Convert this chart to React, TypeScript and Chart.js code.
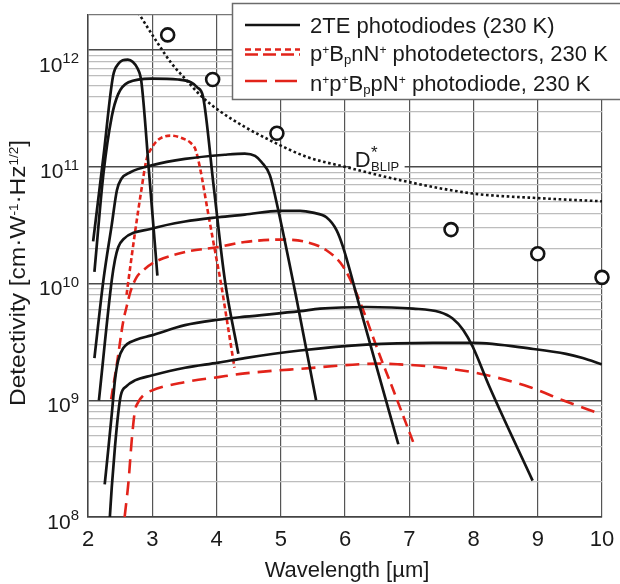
import React, { useEffect, useRef } from "react";
import { Chart, registerables } from "chart.js";

Chart.register(...registerables);

const FONT = '"Liberation Sans", Arial, Helvetica, sans-serif';
const BLACK = "#141414";
const RED = "#e2231a";
const TEXT = "#1a1a1a";

// ---------- axes ----------
const xMin = 2;
const xMax = 10;
const xStep = 1;
const yMin = 1e8;
const yMax = 2e12;
const yDecadeExponents = [8, 9, 10, 11, 12];
const yMinorMultipliers = [2, 3, 4, 5, 6, 7, 8, 9];
const xTitle = "Wavelength [µm]";

// ---------- data: wavelength [µm] / detectivity [Jones] ----------
// 2TE photodiodes (230 K)
const te1Wl = [2.08, 2.24, 2.39, 2.47, 2.54, 2.62, 2.7, 2.77, 2.83, 2.95, 3.08];
const te1D = [2.3e10, 1.22e11, 6.0e11, 7.6e11, 8.2e11, 8.3e11, 7.9e11, 7.0e11, 5.4e11, 9.0e10, 1.17e10];

const te2Wl = [2.1, 2.24, 2.37, 2.47, 2.63, 2.99, 3.4, 3.6, 3.7, 3.79, 3.96, 4.13, 4.34];
const te2D = [1.26e10, 8.7e10, 2.7e11, 4.2e11, 5.3e11, 5.7e11, 5.6e11, 5.3e11, 4.8e11, 4.0e11, 6.5e10, 1.07e10, 2.5e9];

const te3Wl = [2.1, 2.24, 2.37, 2.45, 2.52, 2.66, 2.99, 3.51, 4.13, 4.44, 4.6, 4.7, 4.83, 4.93, 5.25, 5.55];
const te3D = [2.3e9, 1.07e10, 3.2e10, 6.3e10, 7.9e10, 9.0e10, 1.03e11, 1.17e11, 1.27e11, 1.3e11, 1.24e11, 1.1e11, 8.5e10, 5.1e10, 7.2e9, 1.0e9];

const te4Wl = [2.17, 2.37, 2.42, 2.47, 2.55, 2.99, 3.51, 4.03, 4.44, 4.99, 5.3, 5.5, 5.71, 5.87, 5.97, 6.23, 6.83];
const te4D = [1.0e9, 1.07e10, 1.6e10, 2.05e10, 2.4e10, 2.95e10, 3.4e10, 3.7e10, 3.9e10, 4.2e10, 4.2e10, 4.05e10, 3.7e10, 2.86e10, 2.05e10, 6.3e9, 4.2e8];

const te5Wl = [2.26, 2.32, 2.37, 2.42, 2.47, 2.55, 2.75, 2.99, 3.51, 4.03, 4.44, 5.3, 5.61, 6.33, 7.06, 7.47, 7.68, 7.84, 7.99, 8.25, 8.92];
const te5D = [1.9e8, 4.0e8, 7.6e8, 1.5e9, 2.2e9, 2.8e9, 3.3e9, 3.6e9, 4.4e9, 4.9e9, 5.2e9, 5.8e9, 6.1e9, 6.3e9, 6.1e9, 5.7e9, 5.0e9, 4.0e9, 2.86e9, 1.3e9, 2.05e8];

const te6Wl = [2.34, 2.37, 2.42, 2.47, 2.51, 2.6, 2.73, 2.99, 3.51, 4.03, 4.44, 5.3, 6.33, 7.37, 7.99, 8.93, 9.44, 9.7, 10.0];
const te6D = [1.0e8, 1.8e8, 4.0e8, 7.7e8, 1.1e9, 1.32e9, 1.48e9, 1.63e9, 1.9e9, 2.1e9, 2.3e9, 2.67e9, 3.0e9, 3.1e9, 3.1e9, 2.75e9, 2.5e9, 2.3e9, 2.03e9];

// p+BpnN+ photodetectors, 230 K
const pbA_Wl = [2.6, 2.63, 2.73, 2.83, 2.91, 2.99, 3.09, 3.29, 3.51, 3.6, 3.67, 3.74, 3.87, 3.98, 4.07, 4.18, 4.28];
const pbA_D = [8.0e9, 1.07e10, 2.7e10, 6.3e10, 1.15e11, 1.45e11, 1.7e11, 1.85e11, 1.72e11, 1.6e11, 1.42e11, 1.0e11, 4.0e10, 1.86e10, 1.0e10, 4.2e9, 1.9e9];

const pbB_Wl = [2.36, 2.45, 2.55, 2.6, 2.66, 2.76, 2.86, 3.04, 3.51, 4.03, 4.44, 4.99, 5.4, 5.71, 5.97, 6.18, 6.57, 6.7, 7.06];
const pbB_D = [1.02e9, 2.06e9, 4.8e9, 6.3e9, 8.5e9, 1.14e10, 1.3e10, 1.53e10, 1.86e10, 2.06e10, 2.27e10, 2.38e10, 2.27e10, 1.93e10, 1.4e10, 8.2e9, 2.2e9, 1.45e9, 4.4e8];

// n+p+BppN+ photodiode, 230 K
const npWl = [2.57, 2.63, 2.68, 2.73, 2.78, 2.86, 2.99, 3.51, 4.03, 4.44, 5.3, 6.54, 6.85, 7.32, 8.1, 8.87, 9.39, 9.96];
const npD = [1.0e8, 2.0e8, 4.5e8, 8.1e8, 9.6e8, 1.1e9, 1.21e9, 1.43e9, 1.58e9, 1.7e9, 1.86e9, 2.06e9, 2.03e9, 1.95e9, 1.69e9, 1.3e9, 1.0e9, 7.7e8];

// D*BLIP
const blipWl = [2.78, 3.07, 3.3, 3.51, 3.77, 4.03, 4.44, 4.88, 5.4, 6.0, 7.0, 8.0, 9.0, 10.0];
const blipD = [2.1e12, 1.18e12, 7.7e11, 5.7e11, 4.0e11, 3.06e11, 2.2e11, 1.64e11, 1.22e11, 1.0e11, 7.4e10, 5.9e10, 5.4e10, 5.07e10];

// open circles
const markWl = [3.24, 3.94, 4.94, 7.65, 9.0, 10.0];
const markD = [1.35e12, 5.6e11, 1.94e11, 2.9e10, 1.8e10, 1.13e10];

// label anchors (data coords)
const blipLabelWl = 6.15;
const blipLabelD = 1e11;

type Seg = { t: string; k?: "sup" | "sub" };
const yTitleSegs: Seg[] = [
  { t: "Detectivity [cm·W" },
  { t: "-1", k: "sup" },
  { t: "·Hz" },
  { t: "1/2", k: "sup" },
  { t: "]" },
];
const legendRows: Seg[][] = [
  [{ t: "2TE photodiodes (230 K)" }],
  [
    { t: "p" }, { t: "+", k: "sup" }, { t: "B" }, { t: "p", k: "sub" }, { t: "nN" }, { t: "+", k: "sup" },
    { t: " photodetectors, 230 K" },
  ],
  [
    { t: "n" }, { t: "+", k: "sup" }, { t: "p" }, { t: "+", k: "sup" }, { t: "B" }, { t: "p", k: "sub" },
    { t: "pN" }, { t: "+", k: "sup" }, { t: " photodiode, 230 K" },
  ],
];

const pts = (xs: number[], ys: number[]) => xs.map((x, i) => ({ x, y: ys[i] }));

const yGridValues: number[] = (() => {
  const out: number[] = [];
  for (const e of yDecadeExponents) {
    const base = Math.pow(10, e);
    out.push(base);
    for (const m of yMinorMultipliers) {
      const v = m * base;
      if (v <= yMax * 1.0001) out.push(v);
    }
  }
  return out.filter((v) => v >= yMin && v <= yMax * 1.0001);
})();

const isDecade = (v: number) => {
  const l = Math.log10(v);
  return Math.abs(l - Math.round(l)) < 1e-6;
};

function segSize(size: number, k?: string) {
  if (k === "sup") return size * 0.55;
  if (k === "sub") return size * 0.6;
  return size;
}
function richWidth(ctx: CanvasRenderingContext2D, segs: Seg[], size: number) {
  let w = 0;
  for (const s of segs) {
    ctx.font = `${segSize(size, s.k)}px ${FONT}`;
    w += ctx.measureText(s.t).width;
  }
  return w;
}
function drawRich(ctx: CanvasRenderingContext2D, segs: Seg[], x: number, y: number, size: number) {
  let cx = x;
  ctx.textAlign = "left";
  ctx.textBaseline = "alphabetic";
  for (const s of segs) {
    const sz = segSize(size, s.k);
    ctx.font = `${sz}px ${FONT}`;
    const dy = s.k === "sup" ? -size * 0.3 : s.k === "sub" ? size * 0.12 : 0;
    ctx.fillText(s.t, cx, y + dy);
    cx += ctx.measureText(s.t).width;
  }
  return cx;
}

const lineBase = {
  type: "line" as const,
  showLine: true,
  pointRadius: 0,
  pointHoverRadius: 0,
  fill: false,
  cubicInterpolationMode: "monotone" as const,
  borderCapStyle: "butt" as const,
  borderJoinStyle: "round" as const,
};

const decorPlugin = {
  id: "decor",
  beforeDatasetsDraw(chart: any) {
    const { ctx, scales } = chart;
    const x = scales.x.getPixelForValue(blipLabelWl);
    const y = scales.y.getPixelForValue(blipLabelD);
    ctx.save();
    ctx.fillStyle = "#fff";
    ctx.fillRect(x - 4, y - 24, 54, 28);
    ctx.restore();
  },
  afterDraw(chart: any) {
    const { ctx, scales, chartArea } = chart;
    const ys = scales.y;
    const xs = scales.x;
    ctx.save();
    ctx.fillStyle = TEXT;

    // y tick labels 10^n
    for (const e of yDecadeExponents) {
      const py = ys.getPixelForValue(Math.pow(10, e));
      const shift = py - chartArea.top < 40 ? 14 : 4;
      const base = py + shift + 7.5;
      ctx.font = `15px ${FONT}`;
      const ew = ctx.measureText(String(e)).width;
      ctx.font = `21px ${FONT}`;
      const tw = ctx.measureText("10").width;
      const right = chartArea.left - 9;
      ctx.textAlign = "left";
      ctx.textBaseline = "alphabetic";
      ctx.fillText("10", right - ew - tw, base);
      ctx.font = `15px ${FONT}`;
      ctx.fillText(String(e), right - ew, base - 8.5);
    }

    // x title
    ctx.font = `22px ${FONT}`;
    ctx.textAlign = "center";
    ctx.textBaseline = "alphabetic";
    ctx.fillText(xTitle, (chartArea.left + chartArea.right) / 2 + 2, 577);

    // y title (rotated)
    const ySize = 22;
    const w = richWidth(ctx, yTitleSegs, ySize);
    const target = 266;
    const stretch = Math.min(1.2, Math.max(1, target / w));
    ctx.save();
    ctx.translate(25, 273);
    ctx.rotate(-Math.PI / 2);
    ctx.scale(stretch, 1);
    drawRich(ctx, yTitleSegs, -w / 2, 0, ySize);
    ctx.restore();

    // D*BLIP label
    const lx = xs.getPixelForValue(blipLabelWl);
    const ly = ys.getPixelForValue(blipLabelD);
    ctx.font = `22px ${FONT}`;
    ctx.textAlign = "left";
    ctx.fillText("D", lx, ly);
    const dw = ctx.measureText("D").width;
    ctx.font = `17px ${FONT}`;
    ctx.fillText("*", lx + dw + 0.5, ly - 9);
    ctx.font = `13px ${FONT}`;
    ctx.fillText("BLIP", lx + dw + 0.5, ly + 4);

    // legend box
    ctx.fillStyle = "#fff";
    ctx.fillRect(232.5, 3.5, 400, 96);
    ctx.strokeStyle = "#6b6b6b";
    ctx.lineWidth = 1.5;
    ctx.strokeRect(232.5, 3.5, 400, 96);

    const sample = (y: number, color: string, dash: number[]) => {
      ctx.beginPath();
      ctx.setLineDash(dash);
      ctx.strokeStyle = color;
      ctx.lineWidth = 2.6;
      ctx.lineCap = "butt";
      ctx.moveTo(245, y);
      ctx.lineTo(300, y);
      ctx.stroke();
    };
    sample(25, BLACK, []);
    sample(49.5, RED, [6, 4]);
    sample(54.5, RED, [13, 5]);
    sample(81, RED, [22, 8]);
    ctx.setLineDash([]);

    ctx.fillStyle = TEXT;
    const baselines = [33, 61, 91];
    legendRows.forEach((row, i) => drawRich(ctx, row, 310, baselines[i], 22));

    ctx.restore();
  },
};

export default function App() {
  const ref = useRef<HTMLCanvasElement>(null);
  useEffect(() => {
    document.body.style.margin = "0";
    const canvas = ref.current;
    if (!canvas) return;
    const chart = new Chart(canvas, {
      type: "line",
      data: {
        datasets: [
          {
            ...lineBase,
            label: "markers",
            data: pts(markWl, markD),
            showLine: false,
            pointRadius: 6.5,
            pointBorderWidth: 2.6,
            pointBorderColor: BLACK,
            pointBackgroundColor: "#fff",
            borderColor: BLACK,
            order: 0,
            clip: false,
          } as any,
          {
            ...lineBase,
            label: "D*BLIP",
            data: pts(blipWl, blipD),
            borderColor: BLACK,
            borderWidth: 2.6,
            borderDash: [2.6, 2.6],
            order: 1,
          },
          ...[
            [te1Wl, te1D],
            [te2Wl, te2D],
            [te3Wl, te3D],
            [te4Wl, te4D],
            [te5Wl, te5D],
            [te6Wl, te6D],
          ].map(([xsArr, ysArr], i) => ({
            ...lineBase,
            label: "2TE " + (i + 1),
            data: pts(xsArr, ysArr),
            borderColor: BLACK,
            borderWidth: 2.7,
            order: 2,
          })),
          {
            ...lineBase,
            label: "pBnN A",
            data: pts(pbA_Wl, pbA_D),
            borderColor: RED,
            borderWidth: 2.6,
            borderDash: [5, 3],
            order: 3,
          },
          {
            ...lineBase,
            label: "pBnN B",
            data: pts(pbB_Wl, pbB_D),
            borderColor: RED,
            borderWidth: 2.6,
            borderDash: [11, 6],
            order: 3,
          },
          {
            ...lineBase,
            label: "npBpN",
            data: pts(npWl, npD),
            borderColor: RED,
            borderWidth: 2.6,
            borderDash: [14, 8],
            order: 3,
          },
        ] as any,
      },
      options: {
        responsive: false,
        devicePixelRatio: 1,
        animation: false,
        events: [],
        layout: { padding: { left: 0, top: 15, right: 18, bottom: 0 } },
        plugins: {
          legend: { display: false },
          tooltip: { enabled: false },
          title: { display: false },
        },
        scales: {
          x: {
            type: "linear",
            min: xMin,
            max: xMax,
            ticks: {
              stepSize: xStep,
              font: { size: 22, family: FONT },
              color: TEXT,
              padding: 10,
              maxRotation: 0,
            },
            grid: { color: "#555", lineWidth: 1.2, drawTicks: false },
            border: { display: true, color: "#444", width: 1.5 },
            afterFit: (s: any) => {
              s.height = 67;
              s.paddingLeft = 0;
              s.paddingRight = 0;
            },
          },
          y: {
            type: "logarithmic",
            min: yMin,
            max: yMax,
            ticks: { display: false },
            afterBuildTicks: (s: any) => {
              s.ticks = yGridValues.map((v) => ({ value: v, major: isDecade(v) }));
            },
            grid: {
              drawTicks: false,
              color: (c: any) => {
                const v = c.tick && c.tick.value;
                if (!v) return "#bdbdbd";
                if (isDecade(v)) return "#4a4a4a";
                if (v >= yMax * 0.999) return "#777";
                return "#bdbdbd";
              },
              lineWidth: (c: any) => {
                const v = c.tick && c.tick.value;
                return v && isDecade(v) ? 1.4 : 1.3;
              },
            },
            border: { display: true, color: "#444", width: 1.5 },
            afterFit: (s: any) => {
              s.width = 88;
              s.paddingTop = 0;
              s.paddingBottom = 0;
            },
          },
        },
      } as any,
      plugins: [decorPlugin],
    });
    return () => chart.destroy();
  }, []);
  return <canvas ref={ref} width={620} height={584} style={{ display: "block" }} />;
}
